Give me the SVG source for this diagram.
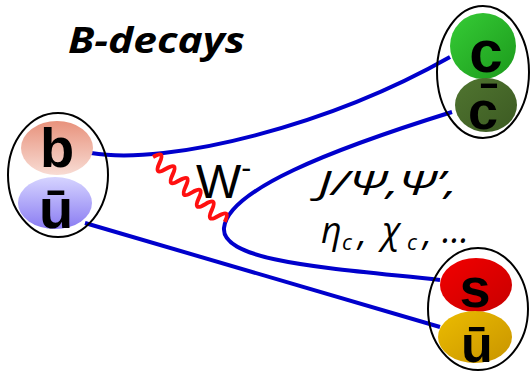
<svg xmlns="http://www.w3.org/2000/svg" width="530" height="375" viewBox="0 0 530 375">
<defs>
<linearGradient id="gb" x1="0" y1="0" x2="0" y2="1"><stop offset="0" stop-color="#e8927c"/><stop offset="1" stop-color="#f8dcd4"/></linearGradient>
<linearGradient id="gu" x1="0" y1="0" x2="0" y2="1"><stop offset="0" stop-color="#d6d4ff"/><stop offset="1" stop-color="#8a7cf2"/></linearGradient>
<linearGradient id="gc" x1="0" y1="0" x2="1" y2="1"><stop offset="0" stop-color="#36cc36"/><stop offset="1" stop-color="#1c9a1c"/></linearGradient>
<linearGradient id="gcb" x1="0" y1="0" x2="1" y2="1"><stop offset="0" stop-color="#507530"/><stop offset="1" stop-color="#3c5a22"/></linearGradient>
<linearGradient id="gs" x1="0" y1="0" x2="1" y2="1"><stop offset="0" stop-color="#f20000"/><stop offset="1" stop-color="#c80000"/></linearGradient>
<linearGradient id="gy" x1="0" y1="0" x2="1" y2="1"><stop offset="0" stop-color="#ecbc00"/><stop offset="1" stop-color="#c89400"/></linearGradient>
</defs>
<style>
.hadron{fill:none;stroke:#000;stroke-width:2}
.q{font-family:"Liberation Sans","DejaVu Sans",sans-serif;font-weight:bold;fill:#000;text-anchor:middle}
.line{fill:none;stroke:#0000cc;stroke-width:4}
.wave{fill:none;stroke:#ff1010;stroke-width:4}
.lbl{font-family:"Open Sans","Noto Sans","DejaVu Sans",sans-serif;font-style:italic;fill:#000}
.big{font-size:36px}
.sub{font-family:"Open Sans","Noto Sans","DejaVu Sans",sans-serif;font-style:italic;fill:#000;font-size:22px}
</style>
<g id="title"><text class="lbl" x="68" y="53" font-size="35" font-weight="bold" textLength="177" lengthAdjust="spacingAndGlyphs">B-decays</text></g>
<g id="connectors">
<path class="line" d="M91,153 C170,166 330,125 450,57"/>
<path class="line" d="M452,112 C330,150 228,190 224,228 C221,262 330,268 440,280"/>
<path class="line" d="M85,223 L440,327"/>
<path class="wave" d="M0,0 q4.4,-14 8.8,0 t8.8,0 t8.8,0 t8.8,0 t8.8,0 t8.8,0 t8.8,0 t8.8,0 t8.8,0 t8.8,0 t8.8,0" transform="translate(153,157) rotate(42.1)"/>
</g>
<g id="B-meson">
<ellipse cx="57" cy="148" rx="36" ry="27" fill="url(#gb)"/>
<ellipse cx="55" cy="203" rx="37" ry="26" fill="url(#gu)"/>
<ellipse class="hadron" cx="58" cy="175" rx="50" ry="62"/>
<text class="q" x="57" y="167" font-size="56">b</text>
<text class="q" x="56" y="228" font-size="56">ū</text>
</g>
<g id="charmonium">
<ellipse cx="483" cy="46" rx="33" ry="33" fill="url(#gc)"/>
<ellipse cx="486" cy="105" rx="31" ry="27" fill="url(#gcb)"/>
<ellipse class="hadron" cx="483" cy="72" rx="46" ry="66"/>
<text class="q" x="486" y="72" font-size="60">c</text>
<text class="q" x="483" y="129" font-size="54">c̄</text>
</g>
<g id="kaon">
<ellipse cx="476" cy="285" rx="36" ry="27" fill="url(#gs)"/>
<ellipse cx="475" cy="337" rx="37" ry="26" fill="url(#gy)"/>
<ellipse class="hadron" cx="478" cy="309" rx="50" ry="61"/>
<text class="q" x="475" y="307" font-size="56">s</text>
<text class="q" x="477" y="362" font-size="52">ū</text>
</g>
<g id="W-label"><text x="196" y="198" font-family="Liberation Sans,sans-serif" font-size="48" fill="#000">W<tspan font-size="30" dy="-20">-</tspan></text></g>
<g id="states">
<text class="lbl" x="318" y="195" font-size="33" textLength="139" lengthAdjust="spacingAndGlyphs">J/Ψ,Ψ’,</text>
<text class="lbl big" x="321" y="243">η</text>
<text class="sub" x="342" y="250">c</text>
<text class="lbl big" x="358" y="245">,</text>
<text class="lbl big" x="382" y="243">χ</text>
<text class="sub" x="407" y="250">c</text>
<text class="lbl big" x="423" y="245">,</text>
<text class="lbl big" x="442" y="243">...</text>
</g>
</svg>
